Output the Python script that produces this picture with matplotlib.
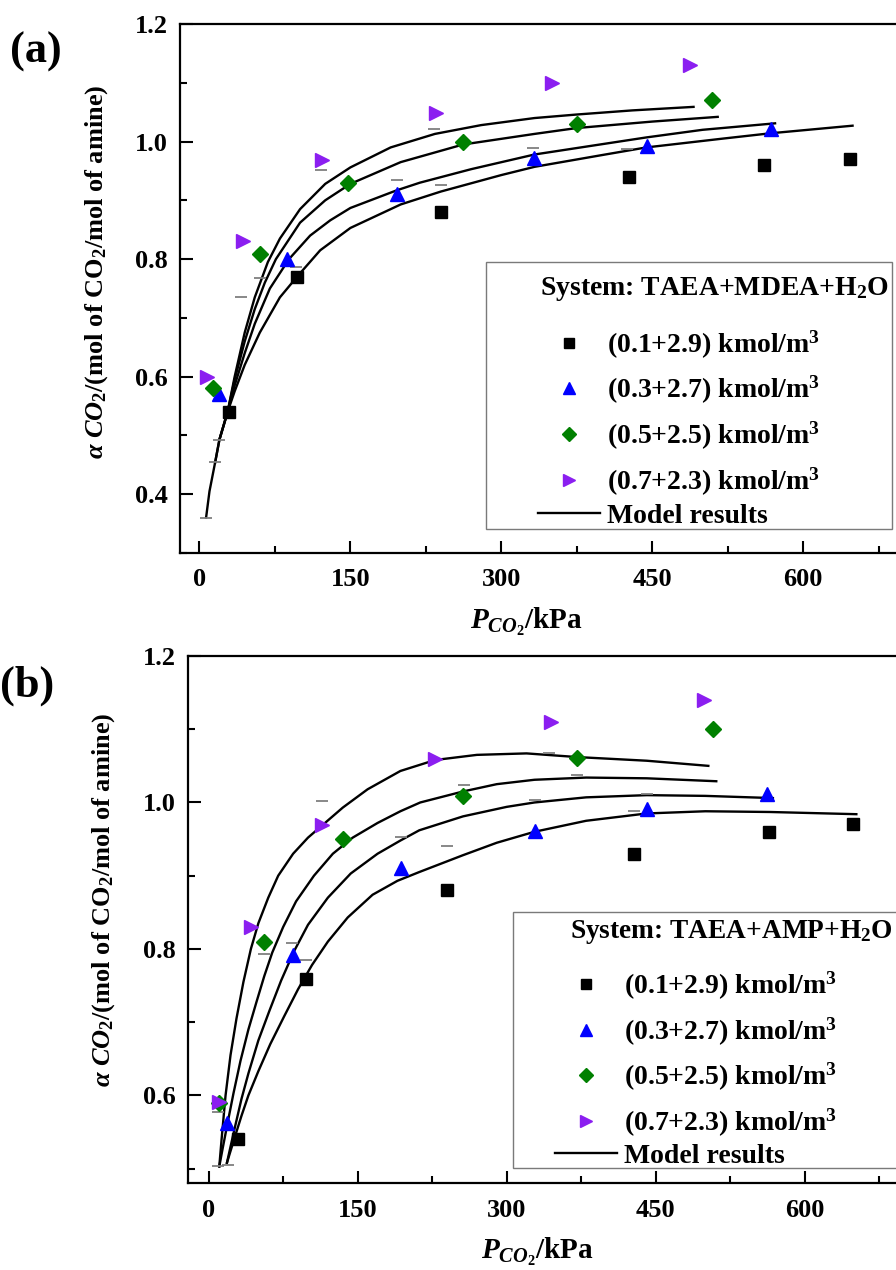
import matplotlib
matplotlib.use('Agg')
import matplotlib.pyplot as plt
from matplotlib.patches import Rectangle
from matplotlib.lines import Line2D
from matplotlib.ticker import MultipleLocator

plt.rcParams['font.family'] = ['Liberation Serif', 'DejaVu Serif']
plt.rcParams['font.weight'] = 'bold'
plt.rcParams['mathtext.fontset'] = 'custom'
plt.rcParams['mathtext.rm'] = 'Liberation Serif:bold'
plt.rcParams['mathtext.it'] = 'Liberation Serif:italic:bold'
plt.rcParams['mathtext.bf'] = 'Liberation Serif:bold'
plt.rcParams['lines.solid_joinstyle'] = 'round'

# ---------------- data: panel (a) TAEA+MDEA+H2O ----------------
a_x_01 = [29.5, 96.8, 239.7, 426.9, 560.7, 646.4]
a_y_01 = [0.54, 0.77, 0.88, 0.94, 0.96, 0.97]
a_x_03 = [19.9, 86.9, 195.9, 332.5, 444.4, 567.6]
a_y_03 = [0.57, 0.80, 0.91, 0.972, 0.993, 1.021]
a_x_05 = [13.9, 59.7, 147.2, 261.6, 374.9, 509.6]
a_y_05 = [0.58, 0.809, 0.93, 1.00, 1.03, 1.071]
a_x_07 = [7.6, 43.1, 122.0, 234.7, 350.7, 487.5]
a_y_07 = [0.60, 0.83, 0.969, 1.049, 1.10, 1.131]

a_dash_x = [6.6, 15.6, 19.9, 41.4, 59.7, 96.1, 121.3, 195.9, 233.3, 240.3, 331.0, 425.0]
a_dash_y = [0.36, 0.454, 0.493, 0.735, 0.768, 0.786, 0.951, 0.934, 1.022, 0.926, 0.989, 0.987]

a_m1_x = [6.6, 10, 15.6, 19.9, 28, 35, 45, 55, 68, 80, 100, 125, 150, 190, 234, 280, 333, 375, 430, 491]
a_m1_y = [0.36, 0.405, 0.454, 0.493, 0.54, 0.60, 0.675, 0.735, 0.795, 0.835, 0.885, 0.928, 0.956, 0.99, 1.013, 1.028, 1.04, 1.046, 1.053, 1.059]
a_m2_x = [15.6, 19.9, 28, 35, 45, 55, 65, 76, 100, 125, 150, 200, 262, 333, 375, 450, 515]
a_m2_y = [0.454, 0.493, 0.54, 0.595, 0.66, 0.715, 0.76, 0.80, 0.862, 0.90, 0.928, 0.965, 0.995, 1.013, 1.023, 1.034, 1.042]
a_m3_x = [19.9, 28, 35, 45, 55, 70, 89, 110, 130, 150, 196, 219, 270, 333, 444, 500, 572]
a_m3_y = [0.493, 0.54, 0.585, 0.64, 0.69, 0.75, 0.80, 0.84, 0.866, 0.887, 0.917, 0.93, 0.953, 0.978, 1.007, 1.02, 1.031]
a_m4_x = [28, 35, 45, 60, 80, 97, 120, 150, 200, 240, 300, 333, 400, 444, 520, 567, 649]
a_m4_y = [0.54, 0.575, 0.62, 0.675, 0.735, 0.77, 0.815, 0.853, 0.893, 0.915, 0.943, 0.957, 0.977, 0.99, 1.005, 1.014, 1.027]

# ---------------- data: panel (b) TAEA+AMP+H2O ----------------
b_x_01 = [29.1, 97.8, 239.7, 428.2, 564.4, 648.3]
b_y_01 = [0.541, 0.759, 0.88, 0.93, 0.96, 0.97]
b_x_03 = [18.1, 84.4, 193.2, 328.1, 441.0, 562.4]
b_y_03 = [0.562, 0.792, 0.911, 0.961, 0.991, 1.012]
b_x_05 = [10.0, 55.9, 135.3, 256.1, 371.1, 507.4]
b_y_05 = [0.59, 0.809, 0.95, 1.009, 1.061, 1.10]
b_x_07 = [10.7, 42.5, 114.5, 228.3, 344.3, 499.0]
b_y_07 = [0.591, 0.83, 0.969, 1.06, 1.11, 1.14]

b_dash_x = [9.7, 19.8, 9.7, 56.0, 84.0, 98.0, 114.5, 193.2, 239.7, 257.0, 329.0, 343.0, 371.0, 428.0, 441.0]
b_dash_y = [0.503, 0.505, 0.578, 0.793, 0.808, 0.785, 1.002, 0.953, 0.941, 1.024, 1.004, 1.068, 1.037, 0.988, 1.012]

b_m1_x = [10.7, 13, 17, 22, 28, 35, 42.5, 50, 60, 70, 85, 100, 114.5, 135, 160, 193, 228, 270, 320, 371, 441, 503]
b_m1_y = [0.503, 0.54, 0.60, 0.655, 0.705, 0.755, 0.80, 0.835, 0.87, 0.90, 0.93, 0.952, 0.969, 0.993, 1.018, 1.043, 1.058, 1.065, 1.067, 1.062, 1.057, 1.05]
b_m2_x = [10.7, 14, 19, 25, 32, 40, 48, 56, 64, 75, 88, 106, 125, 145, 170, 193, 213, 256, 290, 328, 380, 441, 511]
b_m2_y = [0.503, 0.527, 0.562, 0.603, 0.647, 0.69, 0.727, 0.763, 0.795, 0.83, 0.865, 0.90, 0.93, 0.952, 0.972, 0.988, 1.0, 1.015, 1.025, 1.031, 1.034, 1.033, 1.029]
b_m3_x = [18.4, 22, 27, 33, 40, 50, 61, 73, 86, 100, 120, 143, 170, 193, 212, 256, 300, 328, 380, 441, 500, 568]
b_m3_y = [0.508, 0.53, 0.56, 0.595, 0.63, 0.675, 0.715, 0.757, 0.797, 0.833, 0.87, 0.903, 0.93, 0.948, 0.962, 0.981, 0.994, 1.0, 1.007, 1.01, 1.009, 1.006]
b_m4_x = [18.4, 22, 27, 33, 40, 50, 62, 76, 90, 104, 120, 140, 165, 190, 212, 256, 290, 328, 380, 441, 500, 565, 652]
b_m4_y = [0.508, 0.524, 0.546, 0.572, 0.60, 0.633, 0.67, 0.708, 0.745, 0.778, 0.81, 0.843, 0.874, 0.893, 0.905, 0.928, 0.945, 0.96, 0.975, 0.985, 0.988, 0.987, 0.984]

series_labels = ['(0.1+2.9) kmol/m$^3$', '(0.3+2.7) kmol/m$^3$',
                 '(0.5+2.5) kmol/m$^3$', '(0.7+2.3) kmol/m$^3$']
model_label = 'Model results'
xticks = [0, 150, 300, 450, 600]

colors = ['#000000', '#0000FF', '#008000', '#8B1EF0']
markers = ['s', '^', 'D', '>']
msizes = [8.5, 10.5, 8, 10.5]

W, H = 896, 1270
fig = plt.figure(figsize=(W / 100, H / 100), dpi=100)


def axes_px(l, t, r, b):
    return fig.add_axes([l / W, 1 - b / H, (r - l) / W, (b - t) / H])


ax_a = axes_px(180, 24, 924, 553)
ax_b = axes_px(188.3, 656, 923.9, 1183.3)

FS = 19


def style(ax, xlim, ylim, ymaj, ymin_):
    ax.set_xlim(*xlim)
    ax.set_ylim(*ylim)
    ax.set_xticks(xticks)
    ax.xaxis.set_minor_locator(MultipleLocator(75))
    ax.yaxis.set_major_locator(MultipleLocator(ymaj))
    ax.yaxis.set_minor_locator(MultipleLocator(ymin_))
    ax.tick_params(which='both', direction='in', top=False, right=False,
                   width=1.5, labelsize=FS)
    ax.tick_params(which='major', length=9)
    ax.tick_params(which='minor', length=5)
    ax.tick_params(axis='x', pad=11)
    ax.tick_params(axis='y', pad=9)
    for s in ax.spines.values():
        s.set_linewidth(1.6)
    for lab in ax.get_xticklabels() + ax.get_yticklabels():
        lab.set_fontweight('bold')


def draw(ax, xs, ys, models, dash_x, dash_y):
    for (mx, my) in models:
        ax.plot(mx, my, color='black', lw=1.7, zorder=2)
    ax.plot(dash_x, dash_y, ls='none', marker='_', color='#7f7f7f',
            markersize=9, mew=1.3, zorder=2)
    for x, y, c, m, s in zip(xs, ys, colors, markers, msizes):
        ax.plot(x, y, ls='none', marker=m, color=c, markersize=s, zorder=3)


draw(ax_a, [a_x_01, a_x_03, a_x_05, a_x_07], [a_y_01, a_y_03, a_y_05, a_y_07],
     [(a_m1_x, a_m1_y), (a_m2_x, a_m2_y), (a_m3_x, a_m3_y), (a_m4_x, a_m4_y)],
     a_dash_x, a_dash_y)
draw(ax_b, [b_x_01, b_x_03, b_x_05, b_x_07], [b_y_01, b_y_03, b_y_05, b_y_07],
     [(b_m1_x, b_m1_y), (b_m2_x, b_m2_y), (b_m3_x, b_m3_y), (b_m4_x, b_m4_y)],
     b_dash_x, b_dash_y)

style(ax_a, (-19.3, 720), (0.3, 1.2), 0.2, 0.1)
style(ax_b, (-20.5, 720), (0.48, 1.2), 0.2, 0.1)

ylab = r'$\alpha$ $CO_2$/(mol of CO$_2$/mol of amine)'
xlab = r'$P_{CO_2}$/kPa'
for ax, (lx, ly), (xx, xy) in [(ax_a, (-0.094, 0.531), (0.465, -0.100)),
                               (ax_b, (-0.097, 0.537), (0.475, -0.100))]:
    ax.set_ylabel(ylab, fontsize=FS, fontweight='bold')
    ax.yaxis.set_label_coords(lx, ly)
    ax.set_xlabel(xlab, fontsize=21, fontweight='bold')
    ax.xaxis.set_label_coords(xx, xy)

LEG_PROP = {'family': 'Liberation Serif', 'weight': 'bold', 'size': 20}


def legend_block(ax, title, frame, title_xy, title_fs, leg_xy, model_xy):
    ax.add_patch(Rectangle(frame[:2], frame[2], frame[3], transform=ax.transAxes,
                           facecolor='white', edgecolor='#7a7a7a', lw=1.0,
                           zorder=4, clip_on=False))
    ax.text(title_xy[0], title_xy[1], title, transform=ax.transAxes,
            fontsize=title_fs, fontweight='bold', ha='left', va='baseline', zorder=5)
    handles = [Line2D([], [], ls='none', marker=m, color=c, markersize=s * 0.85)
               for c, m, s in zip(colors, markers, msizes)]
    leg1 = ax.legend(handles, series_labels, loc='upper left',
                     bbox_to_anchor=leg_xy, frameon=False, borderpad=0,
                     borderaxespad=0, handlelength=2.23, handletextpad=0.24,
                     labelspacing=0.48, prop=LEG_PROP)
    leg1.set_zorder(6)
    ax.add_artist(leg1)
    leg2 = ax.legend([Line2D([], [], color='black', lw=1.7)], [model_label],
                     loc='center left', bbox_to_anchor=model_xy, frameon=False,
                     borderpad=0, borderaxespad=0, handlelength=2.23,
                     handletextpad=0.24, prop=LEG_PROP)
    leg2.set_zorder(6)


# legend geometry (pixels of the reference) converted to axes fractions
legend_block(ax_a, 'System: TAEA+MDEA+H$_2$O',
             ((485.7 - 180) / 744, (553 - 529) / 529, (892 - 485.7) / 744, (529 - 261.7) / 529),
             ((540 - 180) / 744, (553 - 295) / 529), 20,
             ((538 - 180) / 744, (553 - 328.5) / 529),
             ((538 - 180) / 744, (553 - 516) / 529))
legend_block(ax_b, 'System: TAEA+AMP+H$_2$O',
             ((513 - 188.3) / 735.6, (1183.3 - 1168) / 527.3, (910 - 513) / 735.6, (1168 - 911.7) / 527.3),
             ((570 - 188.3) / 735.6, (1183.3 - 938.3) / 527.3), 19.7,
             ((555 - 188.3) / 735.6, (1183.3 - 970) / 527.3),
             ((555 - 188.3) / 735.6, (1183.3 - 1156) / 527.3))

fig.text(10 / W, 1 - 52 / H, '(a)', fontsize=32, fontweight='bold', ha='left', va='center')
fig.text(0, 1 - 686 / H, '(b)', fontsize=32, fontweight='bold', ha='left', va='center')

fig.savefig('out.png', dpi=100)
